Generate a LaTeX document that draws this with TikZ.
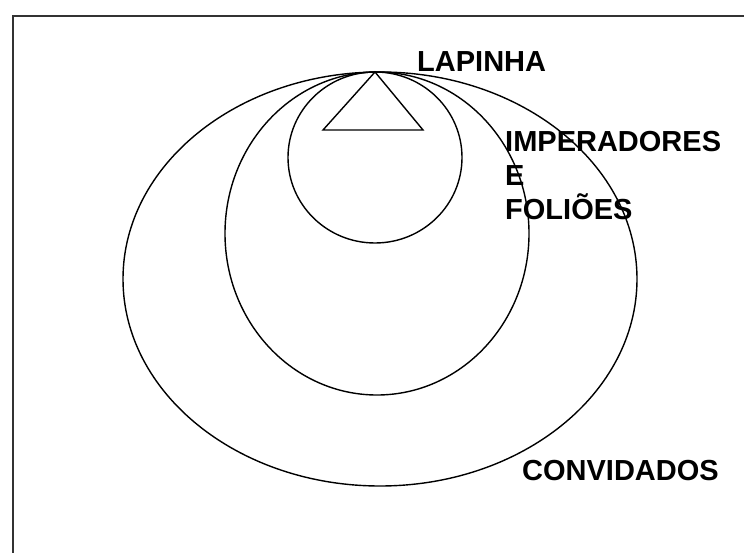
\documentclass[tikz,border=0pt]{standalone}
\usepackage{fontspec}
\setmainfont{Liberation Sans}
\begin{document}
\begin{tikzpicture}[x=1pt,y=-1pt,
  ring/.style={draw=black,line width=1.4pt},
  lbl/.style={anchor=base west,inner sep=0pt,font=\fontsize{29}{34}\selectfont\bfseries}]
\useasboundingbox (0,0) rectangle (744,553);
\fill[white] (0,0) rectangle (744,553);
% frame (cropped: only top and left visible)
\draw[line width=2.4pt,black!80] (13,553) coordinate (fbl) -- (13,16) coordinate (ftl) -- (744,16) coordinate (ftr);
% nested ellipses
\draw[ring] (380,279) ellipse [x radius=257,y radius=207];
\draw[ring] (377,233.5) ellipse [x radius=152,y radius=161.5];
\draw[ring] (375,157.5) ellipse [x radius=87,y radius=85.5];
% triangle
\coordinate (apex) at (375,72);
\coordinate (bl) at (323,130);
\coordinate (br) at (423,130);
\draw[ring] (apex) -- (bl) -- (br) -- cycle;
% labels
\node[lbl] (lap) at (417,72) {LAPINHA};
\node[lbl] (imp) at (505,152) {IMPERADORES};
\node[lbl] (e) at (505,186) {E};
\node[lbl] (fol) at (505,220) {FOLIÕES};
\node[lbl] (conv) at (522,480) {CONVIDADOS};
\end{tikzpicture}
\end{document}
